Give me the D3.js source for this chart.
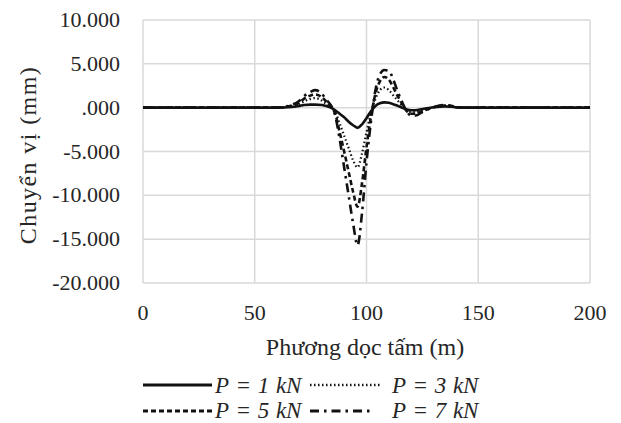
<!DOCTYPE html>
<html><head><meta charset="utf-8">
<script src="https://cdn.jsdelivr.net/npm/d3@7"></script>
</head><body style="margin:0;background:#fff">
<div id="wrap" style="position:relative;width:621px;height:423px;overflow:hidden"><svg id="c" width="621" height="423" style="position:absolute;left:0;top:0;display:block"></svg></div>
<script>
const xs = [0,10,20,30,40,50,60,65,70,72,75,77,80,82,84,86,88,90,92,94,96,98,100,102,104,106,108,110,112,114,116,118,120,122,125,130,135,138,140,145,150,160,170,180,190,200];
const p1 = [0,0,0,0,0,0,0,0.05,0.2,0.3,0.35,0.35,0.3,0.2,0.0,-0.3,-0.7,-1.1,-1.6,-2.0,-2.3,-1.9,-1.2,-0.4,0.2,0.5,0.6,0.55,0.4,0.2,0.0,-0.2,-0.3,-0.3,-0.15,0.05,0.15,0.1,0.05,0,0,0,0,0,0,0];
const p3 = [0,0,0,0,0,0,0,0.1,0.4,0.7,1.0,1.1,0.8,0.4,0.1,-0.5,-1.8,-3.2,-4.6,-6.0,-6.8,-5.2,-2.8,-0.6,1.0,2.0,2.3,2.0,1.4,0.8,0.2,-0.3,-0.5,-0.5,-0.3,0.05,0.2,0.15,0.05,0,0,0,0,0,0,0];
const p5 = [0,0,0,0,0,0,0,0.15,0.6,1.0,1.4,1.5,1.2,0.7,0.2,-0.7,-2.8,-5.0,-7.3,-9.6,-11.3,-8.6,-4.5,-1.0,1.6,3.0,3.5,3.2,2.3,1.3,0.4,-0.4,-0.7,-0.7,-0.4,0.05,0.25,0.2,0.05,0,0,0,0,0,0,0];
const p7 = [0,0,0,0,0,0,0,0.2,0.8,1.3,1.8,2.0,1.6,0.9,0.3,-0.9,-3.6,-6.8,-10.0,-13.2,-15.7,-12.0,-6.2,-1.6,2.0,3.8,4.3,4.2,3.2,1.8,0.6,-0.4,-0.9,-0.9,-0.5,0.05,0.3,0.2,0.05,0,0,0,0,0,0,0];
const seriesNames = ["P = 1 kN","P = 3 kN","P = 5 kN","P = 7 kN"];
const xTicks = [0,50,100,150,200];
const yTicks = [10,5,0,-5,-10,-15,-20];
const yTickLabels = ["10.000","5.000",".000","-5.000","-10.000","-15.000","-20.000"];
const xTitle = "Phương dọc tấm (m)";
const yTitle = "Chuyển vị (mm)";

const svg = d3.select("#c");
const wrap = d3.select("#wrap");
const L=143, R=590, T=20, B=283;
const x = d3.scaleLinear().domain([0,200]).range([L,R]);
const y = d3.scaleLinear().domain([-20,10]).range([B,T]);
const grid = "#d9d9d9";

function txt(s, fs){
  return wrap.append("div").text(s)
    .style("position","absolute").style("font-family","'Liberation Serif'")
    .style("font-size",fs+"px").style("line-height","1").style("color","#262626")
    .style("white-space","nowrap");
}

svg.append("g").selectAll("line").data(xTicks).join("line")
  .attr("x1",d=>x(d)).attr("x2",d=>x(d)).attr("y1",T).attr("y2",B)
  .attr("stroke",grid).attr("stroke-width",1.5);
svg.append("g").selectAll("line").data(yTicks).join("line")
  .attr("x1",L).attr("x2",R).attr("y1",d=>y(d)).attr("y2",d=>y(d))
  .attr("stroke",grid).attr("stroke-width",1.5);

const fsT = 22;
xTicks.forEach(d=>{
  txt(d3.format("d")(d), fsT).style("left",x(d)+"px").style("top",(320-0.8375*fsT)+"px")
    .style("transform","translateX(-50%)");
});
yTicks.forEach((d,i)=>{
  txt(yTickLabels[i], fsT).style("right",(621-120)+"px")
    .style("top",(y(d)+0.338*fsT-0.8375*fsT)+"px");
});

txt(xTitle, 24).style("left","365px").style("top",(355-0.8375*24)+"px")
  .style("transform","translateX(-50%)");
txt(yTitle, 24).style("letter-spacing","1.4px").style("left","28px").style("top","155px")
  .style("transform","translate(-50%,-50%) rotate(-90deg)");

const dashes = [null,"1.5,2.5","5,3","9,5,2.5,5"];
const widths = [2.6,2.2,2.6,2.6];
const data = [p1,p3,p5,p7];
const line = d3.line().x((d,i)=>x(xs[i])).y(d=>y(d)).curve(d3.curveMonotoneX);
[3,2,1,0].forEach(k=>{
  svg.append("path").datum(data[k]).attr("d",line).attr("fill","none")
    .attr("stroke","#111").attr("stroke-width",widths[k])
    .attr("stroke-dasharray",dashes[k]);
});

const fsL = 23;
const leg = [
  {k:0,x1:143,x2:212,tx:215,ly:385,by:393},
  {k:1,x1:310,x2:382,tx:392,ly:385,by:393},
  {k:2,x1:143,x2:212,tx:215,ly:411,by:418},
  {k:3,x1:310,x2:372,tx:392,ly:411,by:418}
];
leg.forEach(l=>{
  svg.append("line").attr("x1",l.x1).attr("x2",l.x2).attr("y1",l.ly).attr("y2",l.ly)
    .attr("stroke","#111").attr("stroke-width",widths[l.k]+0.4).attr("stroke-dasharray",dashes[l.k]);
  txt(seriesNames[l.k], fsL).style("font-style","italic").style("word-spacing","1px")
    .style("left",l.tx+"px").style("top",(l.by-0.8375*fsL)+"px");
});
</script>
</body></html>
